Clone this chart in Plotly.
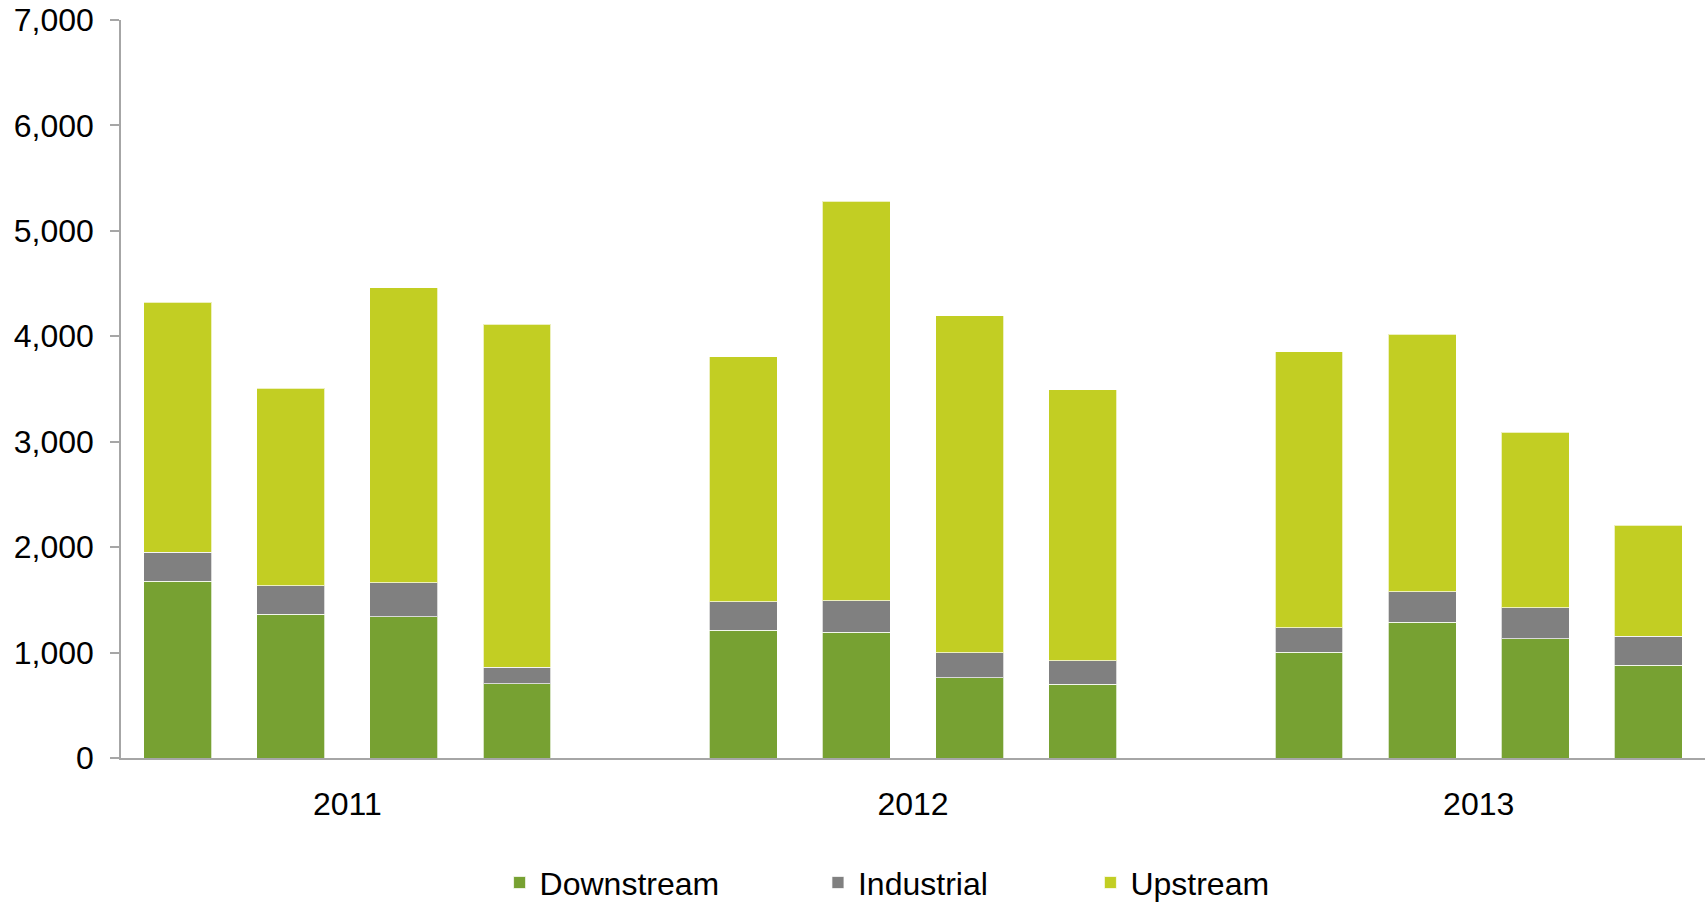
import plotly.graph_objects as go

years = ["2011", "2012", "2013"]
quarters = ["Q1", "Q2", "Q3", "Q4"]
downstream = [1676, 1363, 1340, 705, 1210, 1191, 763, 700, 1005, 1287, 1132, 879]
industrial = [275, 272, 323, 158, 274, 300, 236, 224, 231, 291, 291, 278]
upstream = [2374, 1874, 2798, 3250, 2324, 3792, 3197, 2567, 2615, 2440, 1666, 1050]
y_ticks = [0, 1000, 2000, 3000, 4000, 5000, 6000, 7000]

# slot positions: 4 quarters per year, one empty slot between years
xpos = []
labels = []
for yi, yr in enumerate(years):
    for qi, q in enumerate(quarters):
        xpos.append(yi * 5 + qi)
        labels.append(f"{q} {yr}")
year_centers = [yi * 5 + 1.5 for yi in range(len(years))]

FONT = "Liberation Sans, Arial, sans-serif"
FS = 32
line = dict(color="rgba(255,255,255,0.7)", width=1)

fig = go.Figure()
series = [
    ("Downstream", downstream, "#77A132", "legend"),
    ("Industrial", industrial, "#808080", "legend2"),
    ("Upstream", upstream, "#C2CE23", "legend3"),
]
for name, vals, col, lg in series:
    fig.add_trace(go.Bar(
        x=xpos, y=vals, name=name, width=0.6,
        marker=dict(color=col, line=line),
        customdata=labels, hovertemplate="%{customdata}: %{y}<extra>" + name + "</extra>",
        legend=lg, showlegend=True,
    ))

leg_common = dict(orientation="h", yanchor="middle", xanchor="left",
                  font=dict(family=FONT, size=FS, color="#000000"),
                  bgcolor="rgba(0,0,0,0)", borderwidth=0)

LY = -0.169
fig.update_layout(
    barmode="stack",
    showlegend=True,
    width=1705, height=902,
    margin=dict(l=121, r=0, t=20, b=144, autoexpand=False),
    paper_bgcolor="white", plot_bgcolor="white",
    font=dict(family=FONT, size=FS, color="#000000"),
    legend=dict(x=0.239, y=LY, **leg_common),
    legend2=dict(x=0.44, y=LY, **leg_common),
    legend3=dict(x=0.612, y=LY, **leg_common),
    xaxis=dict(
        range=[-0.5, 13.5],
        tickvals=year_centers, ticktext=years,
        ticks="", showgrid=False, zeroline=False,
        showline=True, linecolor="#A6A6A6", linewidth=1.5,
        tickfont=dict(family=FONT, size=FS, color="#000000"),
        ticklabelstandoff=17,
    ),
    yaxis=dict(
        range=[0, 7000],
        tickvals=y_ticks, tickformat=",d",
        ticks="outside", ticklen=9, tickcolor="#A6A6A6", tickwidth=1.5,
        showgrid=False, zeroline=False,
        showline=True, linecolor="#A6A6A6", linewidth=1.5,
        tickfont=dict(family=FONT, size=FS, color="#000000"),
        ticklabelstandoff=10,
    ),
    bargap=0.4,
)

fig.write_html("out.html")
